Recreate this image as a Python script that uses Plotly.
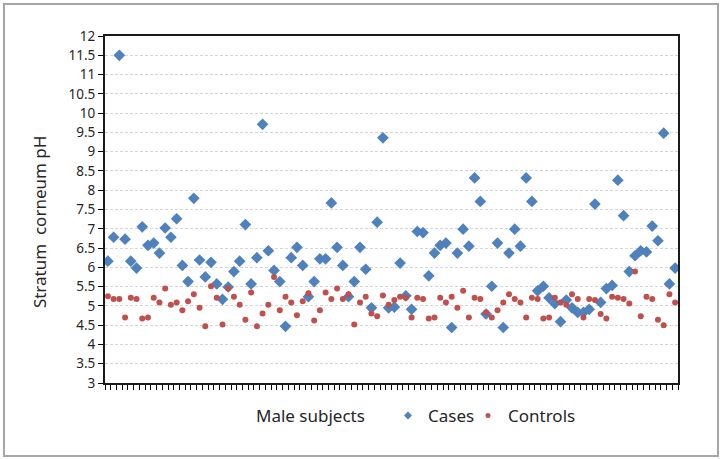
import plotly.graph_objects as go

cases = [6.16, 6.78, 11.5, 6.73, 6.16, 5.98, 7.05, 6.57, 6.63, 6.37,
         7.02, 6.78, 7.26, 6.05, 5.63, 7.79, 6.19, 5.75, 6.13, 5.57,
         5.17, 5.49, 5.89, 6.16, 7.11, 5.57, 6.25, 9.71, 6.43, 5.92,
         5.63, 4.47, 6.25, 6.52, 6.05, 5.24, 5.63, 6.22, 6.22, 7.67,
         6.52, 6.05, 5.24, 5.63, 6.52, 5.95, 4.95, 7.17, 9.36, 4.95,
         4.97, 6.11, 5.26, 4.91, 6.93, 6.90, 5.78, 6.37, 6.57, 6.63,
         4.44, 6.37, 6.99, 6.55, 8.32, 7.71, 4.79, 5.51, 6.63, 4.44,
         6.37, 6.99, 6.55, 8.32, 7.71, 5.39, 5.51, 5.21, 5.06, 4.59,
         5.15, 4.95, 4.83, 4.83, 4.91, 7.64, 5.09, 5.45, 5.53, 8.26,
         7.34, 5.89, 6.30, 6.43, 6.40, 7.07, 6.69, 9.48, 5.57, 5.98]

controls = [5.25, 5.18, 5.18, 4.70, 5.21, 5.18, 4.67, 4.70, 5.21, 5.09,
            5.45, 5.03, 5.09, 4.89, 5.12, 5.30, 4.95, 4.47, 5.51, 5.21,
            4.52, 5.45, 5.24, 5.03, 4.64, 5.35, 4.47, 4.80, 5.03, 5.75,
            4.89, 5.24, 5.09, 4.76, 5.12, 5.33, 4.62, 4.89, 5.35, 5.18,
            5.45, 5.18, 5.30, 4.52, 5.09, 5.24, 4.80, 4.73, 5.27, 5.03,
            5.15, 5.24, 5.21, 4.70, 5.21, 5.18, 4.67, 4.70, 5.21, 5.09,
            5.24, 4.95, 5.39, 4.70, 5.21, 5.18, 4.83, 4.70, 4.89, 5.09,
            5.30, 5.18, 5.09, 4.70, 5.21, 5.18, 4.67, 4.70, 5.21, 5.09,
            5.03, 5.30, 5.18, 4.70, 5.18, 5.15, 4.79, 4.67, 5.24, 5.21,
            5.18, 5.06, 5.89, 4.73, 5.24, 5.18, 4.64, 4.50, 5.30, 5.09]

subjects = list(range(1, len(cases) + 1))
y_ticks = [3 + 0.5 * k for k in range(19)]
y_tick_labels = [("%g" % v) for v in y_ticks]

BLUE = "#4F81BD"
RED = "#C0504D"
FONT = "Noto Sans"
TXT = "#262626"

fig = go.Figure()
fig.add_trace(go.Scatter(
    x=subjects, y=cases, mode="markers", name="Cases", showlegend=False,
    marker=dict(symbol="diamond", size=9, color=BLUE),
))
fig.add_trace(go.Scatter(
    x=subjects, y=controls, mode="markers", name="Controls", showlegend=False,
    marker=dict(symbol="circle", size=6, color=RED),
))
# legend entries with small symbols (as in the reference legend)
fig.add_trace(go.Scatter(
    x=[None], y=[None], mode="markers", name="Cases", legend="legend",
    marker=dict(symbol="diamond", size=6, color=BLUE),
))
fig.add_trace(go.Scatter(
    x=[None], y=[None], mode="markers", name="Controls", legend="legend2",
    marker=dict(symbol="circle", size=5, color=RED),
))

legend_style = dict(orientation="h", xanchor="left", y=-0.095, yanchor="middle",
                    font=dict(size=17, color=TXT), itemwidth=30,
                    bgcolor="rgba(0,0,0,0)")

n = len(subjects)
fig.update_layout(
    width=724, height=459,
    margin=dict(l=105, r=46, t=36, b=76),
    paper_bgcolor="white", plot_bgcolor="white",
    font=dict(family=FONT, color=TXT),
    showlegend=True,
    legend=dict(x=0.4939, **legend_style),
    legend2=dict(x=0.6335, **legend_style),
    xaxis=dict(
        range=[0.5, n + 0.5],
        tickvals=[i + 0.5 for i in range(n + 1)],
        showticklabels=False, ticks="outside", ticklen=5, tickwidth=1,
        tickcolor="#000000",
        showgrid=False, zeroline=False,
        showline=True, linecolor="#1a1a1a", linewidth=1.5, mirror=True,
    ),
    yaxis=dict(
        range=[3, 12],
        tickvals=y_ticks, ticktext=y_tick_labels,
        ticks="outside", ticklen=5, tickcolor="#000000",
        tickfont=dict(size=13.5, color=TXT),
        showgrid=True, gridcolor="#d6d6d6", griddash="3px,2px", gridwidth=1,
        zeroline=False,
        showline=True, linecolor="#1a1a1a", linewidth=2, mirror=True,
    ),
    annotations=[
        dict(text="Male subjects", xref="paper", yref="paper",
             x=0.358, y=-0.095, xanchor="center", yanchor="middle",
             showarrow=False, font=dict(size=17, color=TXT)),
        dict(text="Stratum  corneum pH", xref="paper", yref="paper",
             x=-0.115, y=(383 - 222) / 347, xanchor="center", yanchor="middle",
             textangle=-90, showarrow=False, font=dict(size=17, color=TXT)),
    ],
    shapes=[dict(
        type="rect", xref="paper", yref="paper",
        x0=-0.1763, x1=1.0698, y0=-0.2104, y1=1.0922,
        line=dict(color="#a6a6a6", width=2), fillcolor="rgba(0,0,0,0)",
        layer="below",
    )],
)

fig.write_html("out.html", config={"displayModeBar": False},
               post_script="document.body.style.margin='0';")
